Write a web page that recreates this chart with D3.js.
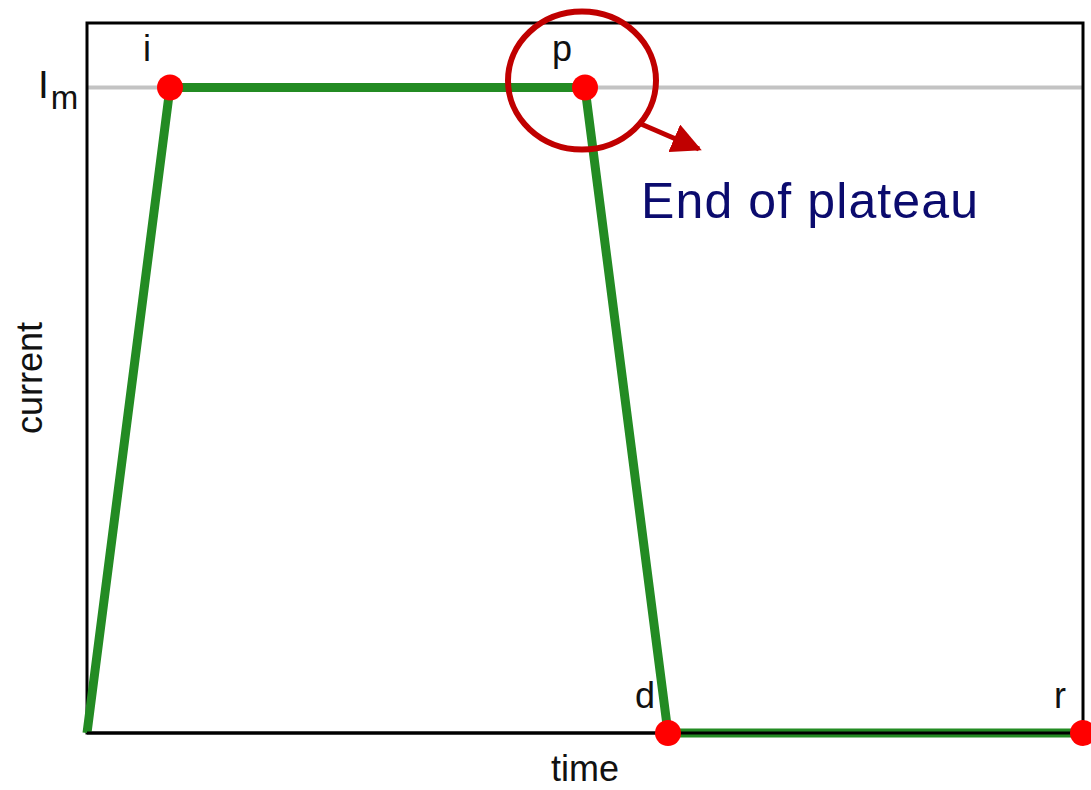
<!DOCTYPE html>
<html>
<head>
<meta charset="utf-8">
<script src="https://cdn.jsdelivr.net/npm/d3@7"></script>
<style>
  body { margin: 0; background: #fff; }
  text { font-family: Arial, "Liberation Sans", sans-serif; }
</style>
</head>
<body>
<div id="chart"></div>
<script>
// waveform corners: time and current (Im = 1)
const labels = ["", "i", "p", "d", "r"];
const times = [0, 1, 6, 7, 12];
const currents = [0, 1, 1, 0, 0];
const dotted = [false, true, true, true, true];
const levelName = "I", levelSub = "m", levelValue = 1;
const note = "End of plateau";

let width = 1091, height = 790,
    margin = ({ top: 23, right: 8, bottom: 57, left: 87 });

const svg = d3.select("#chart").append("svg")
    .attr("width", width).attr("height", height);

let x = d3.scaleLinear().domain([0, 12]).range([margin.left, width - margin.right]);
let y = d3.scaleLinear().domain([0, 1.1]).range([height - margin.bottom, margin.top]);

const pts = times.map((t, i) => ({ t: t, c: currents[i], label: labels[i], dot: dotted[i] }));

// Im reference line
svg.append("line")
  .attr("x1", x(0)).attr("x2", x(12))
  .attr("y1", y(levelValue)).attr("y2", y(levelValue))
  .attr("stroke", "#c3c3c3").attr("stroke-width", 4);

// frame
svg.append("rect")
  .attr("x", x(0)).attr("y", y(1.1))
  .attr("width", x(12) - x(0)).attr("height", y(0) - y(1.1))
  .attr("fill", "none").attr("stroke", "black").attr("stroke-width", 3);

// waveform
svg.append("path")
  .datum(pts)
  .attr("fill", "none")
  .attr("stroke", "#238b23")
  .attr("stroke-width", 9)
  .attr("stroke-linejoin", "round")
  .attr("d", d3.line().x(d => x(d.t)).y(d => y(d.c)));

// bottom axis line drawn over the green segment
svg.append("line")
  .attr("x1", x(0)).attr("x2", x(12))
  .attr("y1", y(0)).attr("y2", y(0))
  .attr("stroke", "black").attr("stroke-width", 3);

svg.append("g").selectAll("circle")
  .data(pts.filter(d => d.dot))
  .join("circle")
  .attr("cx", d => x(d.t)).attr("cy", d => y(d.c))
  .attr("r", 13)
  .attr("fill", "#ff0000");

// point labels
svg.append("g").selectAll("text")
  .data(pts.filter(d => d.label))
  .join("text")
  .attr("x", d => x(d.t) - 23)
  .attr("y", d => d.c > 0 ? y(d.c) - 27 : y(d.c) - 25)
  .attr("text-anchor", "middle")
  .attr("font-size", 36)
  .attr("fill", "#111")
  .text(d => d.label);

// Im label
const lab = svg.append("text")
  .attr("x", 38).attr("y", y(levelValue) + 10)
  .attr("font-size", 39).attr("fill", "#111");
lab.append("tspan").text(levelName);
lab.append("tspan").attr("dx", 2).attr("dy", 11).attr("font-size", 33).text(levelSub);

// axis titles
svg.append("text")
  .attr("x", (x(0) + x(12)) / 2).attr("y", 781)
  .attr("text-anchor", "middle").attr("font-size", 36).attr("fill", "#111")
  .text("time");

svg.append("text")
  .attr("transform", `translate(42,${(y(0) + y(1.1)) / 2}) rotate(-90)`)
  .attr("text-anchor", "middle").attr("font-size", 36).attr("fill", "#111")
  .text("current");

// annotation around end of plateau
const p = pts[2];
const cx = x(p.t) - 3, cy = y(p.c) - 7;
svg.append("ellipse")
  .attr("cx", cx).attr("cy", cy)
  .attr("rx", 74).attr("ry", 69)
  .attr("fill", "none").attr("stroke", "#c00000").attr("stroke-width", 6);

svg.append("defs").append("marker")
  .attr("id", "head")
  .attr("viewBox", "0 0 10 10")
  .attr("refX", 9).attr("refY", 5)
  .attr("markerWidth", 6).attr("markerHeight", 6)
  .attr("markerUnits", "strokeWidth")
  .attr("orient", "auto")
  .append("path").attr("d", "M0,0L10,5L0,10z").attr("fill", "#c00000");

svg.append("line")
  .attr("x1", 641).attr("y1", 124)
  .attr("x2", 699).attr("y2", 149)
  .attr("stroke", "#c00000").attr("stroke-width", 5)
  .attr("marker-end", "url(#head)");

svg.append("text")
  .attr("x", 641).attr("y", 218)
  .attr("font-size", 50).attr("fill", "#0b0b6e")
  .attr("textLength", 337)
  .text(note);
</script>
</body>
</html>
